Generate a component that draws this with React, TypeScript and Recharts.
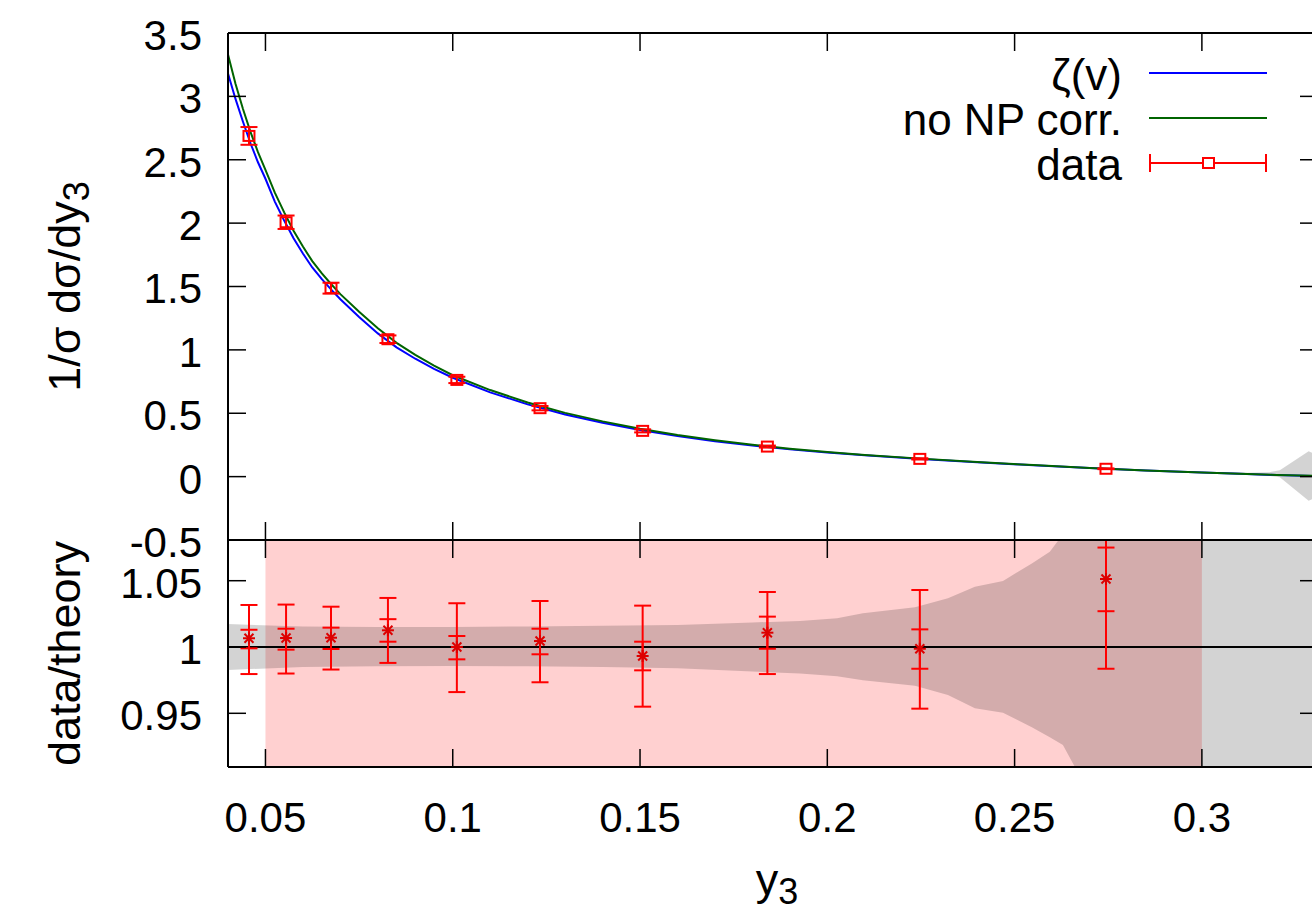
import React from 'react';
import {
  ComposedChart,
  Line,
  Area,
  Scatter,
  XAxis,
  YAxis,
  ErrorBar,
  ReferenceArea,
  ReferenceLine,
  Legend,
} from 'recharts';

const FONT = '"Liberation Sans", Arial, Helvetica, sans-serif';

// ---------- data ----------
const X_DOMAIN: [number, number] = [0.04, 0.331];
const X_TICKS = [0.05, 0.1, 0.15, 0.2, 0.25, 0.3];
const TOP_DOMAIN: [number, number] = [-0.5, 3.5];
const TOP_TICKS = [-0.5, 0, 0.5, 1, 1.5, 2, 2.5, 3, 3.5];
const RATIO_DOMAIN: [number, number] = [0.9095, 1.0807];
const RATIO_TICKS = [0.95, 1, 1.05];
const FIT_RANGE: [number, number] = [0.05, 0.3];

const theoryX = [
  0.04, 0.042, 0.044, 0.046, 0.048, 0.05, 0.0525, 0.055, 0.0575, 0.06, 0.0625, 0.065, 0.0675, 0.07,
  0.075, 0.08, 0.085, 0.09, 0.095, 0.1, 0.11, 0.12, 0.13, 0.14, 0.15, 0.16, 0.17, 0.18, 0.19, 0.2,
  0.21, 0.225, 0.24, 0.255, 0.27, 0.285, 0.3, 0.31, 0.32, 0.331,
];
const zetaV = [
  3.18, 2.98, 2.8, 2.63, 2.48, 2.35, 2.17, 2.02, 1.88, 1.76, 1.65, 1.56, 1.477, 1.4,
  1.26, 1.13, 1.02, 0.93, 0.85, 0.78, 0.665, 0.57, 0.49, 0.425, 0.368, 0.32, 0.28, 0.246, 0.215, 0.19,
  0.168, 0.14, 0.113, 0.09, 0.068, 0.048, 0.032, 0.022, 0.012, 0.004,
];
const noNP = [
  3.33, 3.1, 2.9, 2.72, 2.56, 2.42, 2.24, 2.085, 1.94, 1.815, 1.7, 1.605, 1.52, 1.44,
  1.3, 1.17, 1.055, 0.96, 0.875, 0.8, 0.683, 0.585, 0.503, 0.436, 0.377, 0.328, 0.287, 0.252, 0.22, 0.194,
  0.171, 0.142, 0.115, 0.091, 0.069, 0.049, 0.033, 0.023, 0.013, 0.005,
];

const topBandX = [0.305, 0.312, 0.318, 0.3208, 0.3285, 0.331];
const topBandLo = [0.028, 0.015, 0.006, -0.005, -0.19, -0.16];
const topBandHi = [0.034, 0.03, 0.035, 0.05, 0.2, 0.17];

const dataX = [0.0456, 0.0555, 0.0675, 0.0827, 0.1011, 0.1233, 0.1507, 0.184, 0.2247, 0.2744];
const dataY = [2.688, 2.007, 1.487, 1.084, 0.763, 0.54, 0.361, 0.237, 0.14, 0.062];
const dataErr = [0.07, 0.053, 0.043, 0.03, 0.025, 0.017, 0.012, 0.008, 0.005, 0.003];

const ratioY = [1.0066, 1.0068, 1.007, 1.0126, 1.0, 1.0045, 0.9932, 1.0108, 0.9987, 1.0513];
const ratioInLo = [0.999, 0.998, 0.9985, 1.004, 0.9907, 0.9945, 0.9824, 0.9987, 0.9836, 1.027];
const ratioInHi = [1.013, 1.0138, 1.0146, 1.021, 1.0083, 1.0138, 1.004, 1.0229, 1.0133, 1.075];
const ratioOutLo = [0.9796, 0.98, 0.983, 0.988, 0.966, 0.9734, 0.955, 0.9796, 0.9535, 0.9836];
const ratioOutHi = [1.0317, 1.032, 1.0304, 1.037, 1.033, 1.0347, 1.0312, 1.0415, 1.043, 1.119];

const ratioBandX = [
  0.04, 0.06, 0.08, 0.1, 0.12, 0.14, 0.16, 0.18, 0.1927, 0.2026, 0.2095, 0.2234, 0.2322, 0.2394,
  0.2469, 0.2546, 0.2594, 0.2629, 0.2661, 0.27, 0.331,
];
const ratioBandLo = [
  0.9827, 0.985, 0.9855, 0.9857, 0.9855, 0.985, 0.984, 0.9815, 0.98, 0.978, 0.975, 0.9708, 0.9638,
  0.9538, 0.9505, 0.9394, 0.932, 0.926, 0.9095, 0.89, 0.8,
];
const ratioBandHi = [
  1.0173, 1.0155, 1.015, 1.015, 1.0155, 1.016, 1.0166, 1.0185, 1.0196, 1.0216, 1.0254, 1.03, 1.0367,
  1.0455, 1.0498, 1.063, 1.0719, 1.085, 1.095, 1.11, 1.2,
];

const legendLabels = ['ζ(v)', 'no NP corr.', 'data'];
const legendColors = ['#0000ff', '#006400', '#ff0000'];

// ---------- tables ----------
const zetaData = theoryX.map((x, i) => ({ x, y: zetaV[i] }));
const noNPData = theoryX.map((x, i) => ({ x, y: noNP[i] }));
const topBandData = topBandX.map((x, i) => ({ x, range: [topBandLo[i], topBandHi[i]] }));
const pointData = dataX.map((x, i) => ({ x, y: dataY[i], err: dataErr[i] }));
const ratioData = dataX.map((x, i) => ({
  x,
  y: ratioY[i],
  inner: [ratioY[i] - ratioInLo[i], ratioInHi[i] - ratioY[i]],
  outer: [ratioY[i] - ratioOutLo[i], ratioOutHi[i] - ratioY[i]],
}));
const ratioBandData = ratioBandX.map((x, i) => ({ x, range: [ratioBandLo[i], ratioBandHi[i]] }));

// ---------- styles ----------
const AXIS_LINE = { stroke: '#000', strokeWidth: 2 };
const TICK_LINE = { stroke: '#000', strokeWidth: 1.5 };
const TICK_TEXT = { fontSize: 42, fill: '#000', fontFamily: FONT, dy: 2 };
const TICK_LEN = 18;

const CHART_W = 1340;

const NoTick = () => <g />;

const SquareShape = (props: any) => {
  const { cx, cy } = props;
  if (cx == null || cy == null) return null;
  return <rect x={cx - 5.5} y={cy - 5} width={11} height={10} fill="none" stroke="#ff0000" strokeWidth={2} />;
};

const StarShape = (props: any) => {
  const { cx, cy } = props;
  if (cx == null || cy == null) return null;
  const r = 6;
  const d = 4.5;
  return (
    <g stroke="#dd0000" strokeWidth={2}>
      <line x1={cx - r} y1={cy} x2={cx + r} y2={cy} />
      <line x1={cx} y1={cy - r} x2={cx} y2={cy + r} />
      <line x1={cx - d} y1={cy - d} x2={cx + d} y2={cy + d} />
      <line x1={cx - d} y1={cy + d} x2={cx + d} y2={cy - d} />
    </g>
  );
};

const renderLegend = () => (
  <svg width={440} height={160} style={{ overflow: 'visible', display: 'block' }}>
    {legendLabels.map((label, i) => {
      const y = 33 + i * 45;
      return (
        <g key={label}>
          <text x={242} y={y + 17} textAnchor="end" fontSize={44} fontFamily={FONT} fill="#000">
            {label}
          </text>
          <line x1={269} x2={387} y1={y} y2={y} stroke={legendColors[i]} strokeWidth={2} />
          {i === 2 && (
            <g stroke="#ff0000" strokeWidth={2} fill="none">
              <line x1={270} x2={270} y1={y - 9} y2={y + 9} />
              <line x1={386} x2={386} y1={y - 9} y2={y + 9} />
              <rect x={323} y={y - 5} width={11} height={10} fill="#fff" />
            </g>
          )}
        </g>
      );
    })}
  </svg>
);

const TopYTitle = (props: any) => {
  const vb = props.viewBox || { x: 0, y: 33, width: 228, height: 507 };
  const cy = vb.y + vb.height / 2;
  const cx = 80;
  return (
    <text
      x={cx}
      y={cy}
      transform={`rotate(-90, ${cx}, ${cy})`}
      textAnchor="middle"
      fontSize={45}
      fontFamily={FONT}
      fill="#000"
    >
      1/σ dσ/dy
      <tspan fontSize={36} dy={9}>
        3
      </tspan>
    </text>
  );
};

const BottomYTitle = (props: any) => {
  const vb = props.viewBox || { x: 0, y: 0, width: 228, height: 227 };
  const cy = vb.y + vb.height / 2;
  const cx = 80;
  return (
    <text
      x={cx}
      y={cy}
      transform={`rotate(-90, ${cx}, ${cy})`}
      textAnchor="middle"
      fontSize={45}
      fontFamily={FONT}
      fill="#000"
    >
      data/theory
    </text>
  );
};

const XTitle = (props: any) => {
  const vb = props.viewBox || { x: 228, y: 227, width: 1090, height: 148 };
  const cx = vb.x + vb.width / 2 + 4;
  return (
    <text x={cx} y={vb.y + 128} textAnchor="middle" fontSize={45} fontFamily={FONT} fill="#000">
      y
      <tspan fontSize={36} dy={9}>
        3
      </tspan>
    </text>
  );
};

const mirrorX = (id: string, orientation: 'top' | 'bottom') => (
  <XAxis
    xAxisId={id}
    dataKey="x"
    type="number"
    domain={X_DOMAIN}
    allowDataOverflow
    ticks={X_TICKS}
    interval={0}
    orientation={orientation}
    mirror
    tick={NoTick}
    tickSize={TICK_LEN}
    tickLine={TICK_LINE}
    axisLine={AXIS_LINE}
  />
);

const mirrorY = (id: string, orientation: 'left' | 'right', domain: [number, number], ticks: number[]) => (
  <YAxis
    yAxisId={id}
    type="number"
    domain={domain}
    allowDataOverflow
    ticks={ticks}
    interval={0}
    orientation={orientation}
    mirror
    tick={NoTick}
    tickSize={TICK_LEN}
    tickLine={TICK_LINE}
    axisLine={AXIS_LINE}
  />
);

export default function App() {
  return (
    <div
      style={{
        position: 'absolute',
        left: 0,
        top: 0,
        width: 1312,
        height: 915,
        overflow: 'hidden',
        background: '#fff',
      }}
    >
      {/* upper panel */}
      <div style={{ position: 'absolute', left: 0, top: 0 }}>
        <ComposedChart width={CHART_W} height={560} margin={{ top: 33, right: 22, bottom: 20, left: 0 }}>
          <Area
            data={topBandData}
            dataKey="range"
            xAxisId="xb"
            yAxisId="yl"
            type="linear"
            stroke="none"
            fill="#000"
            fillOpacity={0.1725}
            isAnimationActive={false}
            activeDot={false}
          />
          <Line
            data={zetaData}
            dataKey="y"
            xAxisId="xb"
            yAxisId="yl"
            type="linear"
            stroke="#0000ff"
            strokeWidth={2}
            dot={false}
            activeDot={false}
            isAnimationActive={false}
          />
          <Line
            data={noNPData}
            dataKey="y"
            xAxisId="xb"
            yAxisId="yl"
            type="linear"
            stroke="#006400"
            strokeWidth={2}
            dot={false}
            activeDot={false}
            isAnimationActive={false}
          />
          <Scatter
            data={pointData}
            dataKey="y"
            xAxisId="xb"
            yAxisId="yl"
            shape={SquareShape}
            isAnimationActive={false}
          >
            <ErrorBar dataKey="err" direction="y" width={8.5} stroke="#ff0000" strokeWidth={2} isAnimationActive={false} />
          </Scatter>
          {mirrorX('xb', 'bottom')}
          {mirrorX('xt', 'top')}
          <YAxis
            yAxisId="yl"
            type="number"
            domain={TOP_DOMAIN}
            allowDataOverflow
            ticks={TOP_TICKS}
            interval={0}
            orientation="left"
            width={228}
            tickLine={false}
            axisLine={false}
            tickSize={0}
            tickMargin={26}
            tick={TICK_TEXT}
            label={TopYTitle}
          />
          {mirrorY('ylm', 'left', TOP_DOMAIN, TOP_TICKS)}
          {mirrorY('yr', 'right', TOP_DOMAIN, TOP_TICKS)}
          <Legend
            content={renderLegend}
            layout="vertical"
            align="center"
            verticalAlign="middle"
            wrapperStyle={{ position: 'absolute', left: 880, top: 40, width: 440, height: 160 }}
          />
        </ComposedChart>
      </div>

      {/* lower panel */}
      <div style={{ position: 'absolute', left: 0, top: 540, height: 375, width: 1312, overflow: 'hidden' }}>
        <ComposedChart width={CHART_W} height={375} margin={{ top: 0, right: 22, bottom: 0, left: 0 }}>
          <ReferenceArea
            x1={FIT_RANGE[0]}
            x2={FIT_RANGE[1]}
            xAxisId="xb2"
            yAxisId="yl2"
            fill="#ff0000"
            fillOpacity={0.184}
            stroke="none"
          />
          <Area
            data={ratioBandData}
            dataKey="range"
            xAxisId="xb2"
            yAxisId="yl2"
            type="linear"
            stroke="none"
            fill="#000"
            fillOpacity={0.1725}
            isAnimationActive={false}
            activeDot={false}
          />
          <ReferenceLine y={1} xAxisId="xb2" yAxisId="yl2" stroke="#000" strokeWidth={2} />
          <Scatter
            data={ratioData}
            dataKey="y"
            xAxisId="xb2"
            yAxisId="yl2"
            shape={StarShape}
            isAnimationActive={false}
          >
            <ErrorBar dataKey="outer" direction="y" width={8.5} stroke="#ff0000" strokeWidth={2} isAnimationActive={false} />
            <ErrorBar dataKey="inner" direction="y" width={8.5} stroke="#ff0000" strokeWidth={2} isAnimationActive={false} />
          </Scatter>
          <XAxis
            xAxisId="xb2"
            dataKey="x"
            type="number"
            domain={X_DOMAIN}
            allowDataOverflow
            ticks={X_TICKS}
            interval={0}
            orientation="bottom"
            height={148}
            tickLine={false}
            axisLine={false}
            tickSize={0}
            tickMargin={35}
            tick={{ fontSize: 42, fill: '#000', fontFamily: FONT }}
            label={XTitle}
          />
          {mirrorX('xbm', 'bottom')}
          {mirrorX('xt2', 'top')}
          <YAxis
            yAxisId="yl2"
            type="number"
            domain={RATIO_DOMAIN}
            allowDataOverflow
            ticks={RATIO_TICKS}
            interval={0}
            orientation="left"
            width={228}
            tickLine={false}
            axisLine={false}
            tickSize={0}
            tickMargin={26}
            tick={TICK_TEXT}
            label={BottomYTitle}
          />
          {mirrorY('ylm2', 'left', RATIO_DOMAIN, RATIO_TICKS)}
          {mirrorY('yr2', 'right', RATIO_DOMAIN, RATIO_TICKS)}
        </ComposedChart>
      </div>
    </div>
  );
}
